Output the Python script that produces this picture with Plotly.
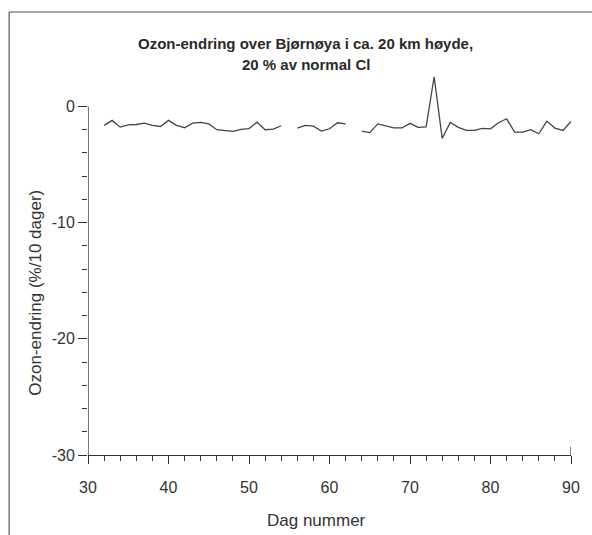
import plotly.graph_objects as go

days = list(range(32, 91))
ozone_change = [
    -1.63, -1.2, -1.78, -1.58, -1.55, -1.43, -1.63, -1.72, -1.2, -1.63,   # 32-41
    -1.83, -1.43, -1.37, -1.5, -2.0, -2.06, -2.15, -1.98, -1.9, -1.35,    # 42-51
    -2.0, -1.95, -1.66, None, -1.86, -1.63, -1.7, -2.12, -1.92, -1.4,     # 52-61
    -1.49, None, -2.13, -2.25, -1.5, -1.68, -1.85, -1.85, -1.45, -1.8,    # 62-71
    -1.75, 2.56, -2.75, -1.38, -1.8, -2.06, -2.06, -1.88, -1.92, -1.4,    # 72-81
    -1.06, -2.2, -2.2, -2.0, -2.35, -1.26, -1.86, -2.06, -1.29,           # 82-90
]

x_ticks = [30, 40, 50, 60, 70, 80, 90]
y_ticks = [0, -10, -20, -30]
y_tick_text = ["0", "-10", "-20", "-30"]

title_line1 = "Ozon-endring over Bjørnøya i ca. 20 km høyde,"
title_line2 = "20 % av normal Cl"
x_title = "Dag nummer"
y_title = "Ozon-endring (%/10 dager)"

ink = "#333333"
font_family = "Liberation Sans, Arial, sans-serif"

L, R, T, B = 88, 14, 60, 80
PW = 592 - L - R
PH = 535 - T - B
AXIS_Y = 535 - B


def px_x(p):
    return (p - L) / PW


def px_y(p):
    return (AXIS_Y - p) / PH


fig = go.Figure()
fig.add_trace(go.Scatter(
    x=days, y=ozone_change, mode="lines",
    line=dict(color="#444444", width=1.3),
    connectgaps=False, hoverinfo="skip", showlegend=False,
))

fig.update_layout(
    width=592, height=535,
    margin=dict(l=L, r=R, t=T, b=B),
    paper_bgcolor="white", plot_bgcolor="white",
    font=dict(family=font_family, size=16, color=ink),
    showlegend=False,
)

fig.update_xaxes(
    range=[30, 90], showgrid=False, zeroline=False,
    showline=True, linecolor=ink, linewidth=1.3,
    tickmode="array", tickvals=x_ticks,
    ticks="outside", ticklen=8, tickwidth=1.2, tickcolor=ink,
    ticklabelstandoff=10,
    minor=dict(dtick=2, tick0=30, ticks="outside", ticklen=5, tickwidth=1, tickcolor=ink, showgrid=False),
    tickfont=dict(size=16, color=ink),
)
fig.update_yaxes(
    range=[-30, 4], showgrid=False, zeroline=False, showline=False,
    tickmode="array", tickvals=y_ticks, ticktext=y_tick_text,
    ticks="outside", ticklen=9, tickwidth=1.2, tickcolor=ink,
    minor=dict(tickvals=[v for v in range(-30, 1, 2) if v % 10 != 0], ticks="outside",
               ticklen=5, tickwidth=1, tickcolor=ink, showgrid=False),
    tickfont=dict(size=16, color=ink),
)

# y axis line only spans -30..0 (data spike goes above it)
fig.add_shape(type="line", xref="x", yref="y", x0=30, x1=30, y0=-30.45, y1=0,
              line=dict(color=ink, width=1.3))
# small end mark at x=90
fig.add_shape(type="line", xref="x", yref="y", x0=90, x1=90, y0=-30, y1=-29.3,
              line=dict(color=ink, width=1.2))

# outer frame (left and top edges of scanned figure box)
fig.add_shape(type="line", xref="paper", yref="paper",
              x0=px_x(8), x1=px_x(8), y0=px_y(540), y1=px_y(12),
              line=dict(color="#555555", width=1.2))
fig.add_shape(type="line", xref="paper", yref="paper",
              x0=px_x(8), x1=px_x(600), y0=px_y(12), y1=px_y(12),
              line=dict(color="#555555", width=1.2))

fig.add_annotation(text="<b>" + title_line1 + "</b>", xref="paper", yref="paper",
                   x=px_x(309), y=px_y(43), xanchor="center", yanchor="middle",
                   showarrow=False, font=dict(size=15, color="#2a2a2a"))
fig.add_annotation(text="<b>" + title_line2 + "</b>", xref="paper", yref="paper",
                   x=px_x(309), y=px_y(64), xanchor="center", yanchor="middle",
                   showarrow=False, font=dict(size=15, color="#2a2a2a"))
fig.add_annotation(text=x_title, xref="paper", yref="paper",
                   x=px_x(320), y=px_y(520), xanchor="center", yanchor="middle",
                   showarrow=False, font=dict(size=17, color=ink))
fig.add_annotation(text=y_title, xref="paper", yref="paper",
                   x=px_x(34), y=px_y(293), xanchor="center", yanchor="middle",
                   textangle=-90, showarrow=False, font=dict(size=17, color=ink))

fig.write_html("out.html")
